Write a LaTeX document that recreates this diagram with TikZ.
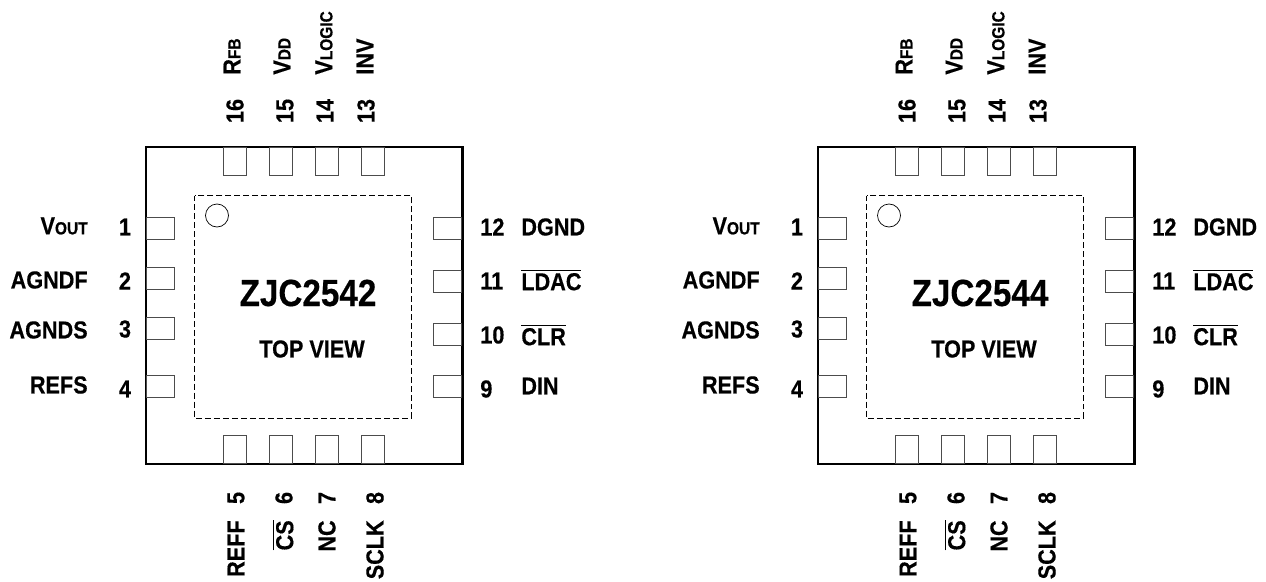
\documentclass[tikz,border=0pt]{standalone}
\usepackage{fontspec}
\setmainfont[FakeStretch=0.88,BoldFeatures={FakeBold=0.4}]{Liberation Sans}
\tikzset{
pad/.style={draw=black!70,line width=0.5pt},
pin/.style={font=\fontsize{14}{15}\selectfont\bfseries,inner sep=0pt},
vert/.style={pin,rotate=90},
}
\newcommand{\lowtxt}[1]{{\fontsize{10}{11}\selectfont #1}}
\newcommand{\barred}[1]{$\overline{\mbox{#1}}$}
\begin{document}
\begin{tikzpicture}[x=0.02cm,y=-0.02cm]
\useasboundingbox (0,0) rectangle (1266,581);

\foreach \off/\part in {0/ZJC2542,672/ZJC2544}{
\begin{scope}[xshift=\off*0.02cm]
\draw[line width=1.2pt] (146,147) rectangle (462.5,464);
\draw[dash pattern=on 3.4pt off 1.7pt,line width=0.4pt] (194.5,195.5) rectangle (411.5,418);
\draw[line width=0.4pt] (217,215.5) circle (11.5);

% pads
\foreach \pos in {223.5,269.5,315.5,361.5}{
\draw[pad] (\pos,147.5) rectangle +(22.5,28);
\draw[pad] (\pos,463.5) rectangle +(22.5,-28);
}
\foreach \pos in {217,267,317,375.5}{
\draw[pad] (146.5,\pos) rectangle +(28,22);
}
\foreach \pos in {217,270,323,375.5}{
\draw[pad] (461.5,\pos) rectangle +(-28,22);
}

\node[font=\fontsize{21.5}{22}\selectfont\bfseries,inner sep=0pt] (name\off) at (308,293) {\part};
\node[pin] (view\off) at (312,349) {TOP VIEW};

% left pins
\foreach \num/\ny/\ly/\txt in {1/227/226/V\lowtxt{OUT},2/281/280/AGNDF,3/329/330/AGNDS,4/389/385/REFS}{
\node[pin] (num\off\num) at (125,\ny) {\num};
\node[pin,anchor=east] (lab\off\num) at (88,\ly) {\txt};
}
% right pins
\foreach \num/\ny/\ly/\txt in {12/227/227/DGND,11/281/280/\barred{LDAC},10/335/335/\barred{CLR},9/389/386/DIN}{
\node[pin] (num\off\num) at (480,\ny) [anchor=west] {\num};
\node[pin,anchor=west] (lab\off\num) at (521,\ly) {\txt};
}
% top pins
\foreach \num/\nx/\lx/\txt in {16/235/232/R\lowtxt{FB},15/285/282/V\lowtxt{DD},14/325/324/V\lowtxt{LOGIC},13/366/365/INV}{
\node[vert] (num\off\num) at (\nx,111) {\num};
\node[vert,anchor=west] (lab\off\num) at (\lx,75) {\txt};
}
% bottom pins
\foreach \num/\nx/\lx/\txt in {5/236/236/REFF,6/284/283/\barred{CS},7/327/327/NC,8/375/375/SCLK}{
\node[vert] (num\off\num) at (\nx,498) {\num};
\node[vert,anchor=east] (lab\off\num) at (\lx,520) {\txt};
}
\end{scope}
}
\end{tikzpicture}
\end{document}
